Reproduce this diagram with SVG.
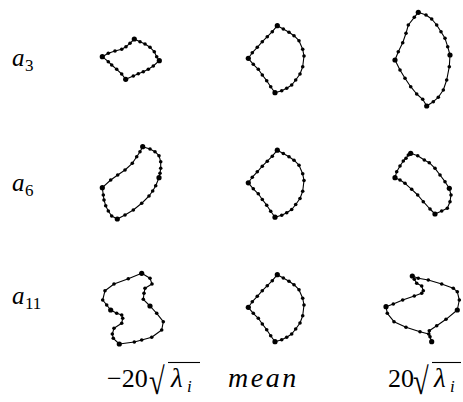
<svg xmlns="http://www.w3.org/2000/svg" width="463" height="402" viewBox="0 0 463 402">
<style>
.ln{fill:none;stroke:#000;stroke-width:1.1;stroke-linejoin:round}
.d{fill:#000}
text{font-family:'Liberation Serif','DejaVu Serif','Times New Roman',serif;fill:#000}
.t{font-style:italic}
</style>
<defs>
<g id="meanShape">
<polygon class="ln" points="277.3,25.7 283.3,29 289,32.3 294,35.7 299,40.7 302.7,49.3 304,56 302.7,66.7 300,74 295.7,80 291.7,85 286.7,88.3 281.7,90.7 275,92.7 270.7,86.7 266.7,80.7 262.3,75 258.3,69.3 253.3,64.3 248.3,58.3 252.3,52.7 257.3,47.3 262.3,41.7 267.3,36.7 272.3,31.7"/>
<g class="d">
<circle cx="277.3" cy="25.7" r="2.6"/><circle cx="283.3" cy="29" r="1.8"/><circle cx="289" cy="32.3" r="1.8"/><circle cx="294" cy="35.7" r="1.8"/><circle cx="299" cy="40.7" r="1.8"/><circle cx="302.7" cy="49.3" r="1.8"/><circle cx="304" cy="56" r="1.8"/><circle cx="302.7" cy="66.7" r="1.8"/><circle cx="300" cy="74" r="1.8"/><circle cx="295.7" cy="80" r="1.8"/><circle cx="291.7" cy="85" r="1.8"/><circle cx="286.7" cy="88.3" r="1.8"/><circle cx="281.7" cy="90.7" r="1.8"/><circle cx="275" cy="92.7" r="2.6"/><circle cx="270.7" cy="86.7" r="1.8"/><circle cx="266.7" cy="80.7" r="1.8"/><circle cx="262.3" cy="75" r="1.8"/><circle cx="258.3" cy="69.3" r="1.8"/><circle cx="253.3" cy="64.3" r="1.8"/><circle cx="248.3" cy="58.3" r="2.6"/><circle cx="252.3" cy="52.7" r="1.8"/><circle cx="257.3" cy="47.3" r="1.8"/><circle cx="262.3" cy="41.7" r="1.8"/><circle cx="267.3" cy="36.7" r="1.8"/><circle cx="272.3" cy="31.7" r="1.8"/>
</g>
</g>
</defs>

<g id="label-a3"><text class="t" x="12" y="66" font-size="25">a</text><text x="25" y="71" font-size="17">3</text></g>
<g id="label-a6"><text class="t" x="12" y="191" font-size="25">a</text><text x="25" y="196" font-size="17">6</text></g>
<g id="label-a11"><text class="t" x="12" y="304" font-size="25">a</text><text x="25" y="309" font-size="17">11</text></g>

<g id="a3-minus">
<polygon class="ln" points="102.3,56.7 108.3,53.3 115,51 121.7,49.3 126,46.7 130,43.3 134.3,39 140,41.7 145,44 150,47.3 154.3,51.7 156.7,56.7 159.3,60.7 153.3,66 148.3,69.3 143.3,71.7 138.3,73.7 133.3,76 125.7,79.3 121.7,74 116.7,69.3 111.7,65 108.3,61.7"/>
<g class="d">
<circle cx="102.3" cy="56.7" r="2.6"/><circle cx="108.3" cy="53.3" r="1.8"/><circle cx="115" cy="51" r="1.8"/><circle cx="121.7" cy="49.3" r="1.8"/><circle cx="126" cy="46.7" r="1.8"/><circle cx="130" cy="43.3" r="1.8"/><circle cx="134.3" cy="39" r="2.6"/><circle cx="140" cy="41.7" r="1.8"/><circle cx="145" cy="44" r="1.8"/><circle cx="150" cy="47.3" r="1.8"/><circle cx="154.3" cy="51.7" r="1.8"/><circle cx="156.7" cy="56.7" r="1.8"/><circle cx="159.3" cy="60.7" r="2.6"/><circle cx="153.3" cy="66" r="1.8"/><circle cx="148.3" cy="69.3" r="1.8"/><circle cx="143.3" cy="71.7" r="1.8"/><circle cx="138.3" cy="73.7" r="1.8"/><circle cx="133.3" cy="76" r="1.8"/><circle cx="125.7" cy="79.3" r="2.6"/><circle cx="121.7" cy="74" r="1.8"/><circle cx="116.7" cy="69.3" r="1.8"/><circle cx="111.7" cy="65" r="1.8"/><circle cx="108.3" cy="61.7" r="1.8"/>
</g>
</g>
<g id="a3-mean"><use href="#meanShape"/></g>
<g id="a3-plus">
<polygon class="ln" points="418.3,12.3 426,15 431.7,19 436.7,25 441,31.7 445,38.3 447.7,46.7 450,55 449.3,66.7 446.7,80 443.3,90 438.3,97.3 433.3,101.7 426.7,106 422.7,99.3 416.7,94 410.7,86.7 405,78.3 400,70 395,60 398.3,51.7 402.7,42.7 406,33.3 408.3,25 414.3,17.3"/>
<g class="d">
<circle cx="418.3" cy="12.3" r="2.6"/><circle cx="426" cy="15" r="1.8"/><circle cx="431.7" cy="19" r="1.8"/><circle cx="436.7" cy="25" r="1.8"/><circle cx="441" cy="31.7" r="1.8"/><circle cx="445" cy="38.3" r="1.8"/><circle cx="447.7" cy="46.7" r="1.8"/><circle cx="450" cy="55" r="2.6"/><circle cx="449.3" cy="66.7" r="1.8"/><circle cx="446.7" cy="80" r="1.8"/><circle cx="443.3" cy="90" r="1.8"/><circle cx="438.3" cy="97.3" r="1.8"/><circle cx="433.3" cy="101.7" r="1.8"/><circle cx="426.7" cy="106" r="2.6"/><circle cx="422.7" cy="99.3" r="1.8"/><circle cx="416.7" cy="94" r="1.8"/><circle cx="410.7" cy="86.7" r="1.8"/><circle cx="405" cy="78.3" r="1.8"/><circle cx="400" cy="70" r="1.8"/><circle cx="395" cy="60" r="2.6"/><circle cx="398.3" cy="51.7" r="1.8"/><circle cx="402.7" cy="42.7" r="1.8"/><circle cx="406" cy="33.3" r="1.8"/><circle cx="408.3" cy="25" r="1.8"/><circle cx="414.3" cy="17.3" r="1.8"/>
</g>
</g>

<g id="a6-minus">
<polygon class="ln" points="142.7,146.7 150,149 155,151.7 159,155.7 160.7,161.7 160.7,168.3 160,173.3 159,177.7 155.7,185.7 152.7,191 149,196 141.7,203.3 133.3,210 125,215 117.3,219 111.7,216 108.3,211 105.7,205.7 104,200 103.3,195 102.3,187.7 110.7,180 117.7,175 125,170 132.3,163.3 136.7,156.7 140,151.7"/>
<g class="d">
<circle cx="142.7" cy="146.7" r="2.6"/><circle cx="150" cy="149" r="1.8"/><circle cx="155" cy="151.7" r="1.8"/><circle cx="159" cy="155.7" r="1.8"/><circle cx="160.7" cy="161.7" r="1.8"/><circle cx="160.7" cy="168.3" r="1.8"/><circle cx="160" cy="173.3" r="1.8"/><circle cx="159" cy="177.7" r="2.6"/><circle cx="155.7" cy="185.7" r="1.8"/><circle cx="152.7" cy="191" r="1.8"/><circle cx="149" cy="196" r="1.8"/><circle cx="141.7" cy="203.3" r="1.8"/><circle cx="133.3" cy="210" r="1.8"/><circle cx="125" cy="215" r="1.8"/><circle cx="117.3" cy="219" r="2.6"/><circle cx="111.7" cy="216" r="1.8"/><circle cx="108.3" cy="211" r="1.8"/><circle cx="105.7" cy="205.7" r="1.8"/><circle cx="104" cy="200" r="1.8"/><circle cx="103.3" cy="195" r="1.8"/><circle cx="102.3" cy="187.7" r="2.6"/><circle cx="110.7" cy="180" r="1.8"/><circle cx="117.7" cy="175" r="1.8"/><circle cx="125" cy="170" r="1.8"/><circle cx="132.3" cy="163.3" r="1.8"/><circle cx="136.7" cy="156.7" r="1.8"/><circle cx="140" cy="151.7" r="1.8"/>
</g>
</g>
<g id="a6-mean"><use href="#meanShape" transform="translate(0,124.5)"/></g>
<g id="a6-plus">
<polygon class="ln" points="410.7,153.3 417.7,155.7 424.3,160 429.3,162.7 435,168.3 440,175 445,181.7 449.3,188.3 451,195 450,201.7 447.3,208.3 441.7,211 435,214 430,209 423.3,201.7 417.7,195 411.7,189.3 405,183.3 400,180 395,177.7 396.7,171.7 400,166 403.3,161 406,158.3 408.3,155"/>
<g class="d">
<circle cx="410.7" cy="153.3" r="2.6"/><circle cx="417.7" cy="155.7" r="1.8"/><circle cx="424.3" cy="160" r="1.8"/><circle cx="429.3" cy="162.7" r="1.8"/><circle cx="435" cy="168.3" r="1.8"/><circle cx="440" cy="175" r="1.8"/><circle cx="445" cy="181.7" r="1.8"/><circle cx="449.3" cy="188.3" r="2.6"/><circle cx="451" cy="195" r="1.8"/><circle cx="450" cy="201.7" r="1.8"/><circle cx="447.3" cy="208.3" r="1.8"/><circle cx="441.7" cy="211" r="1.8"/><circle cx="435" cy="214" r="2.6"/><circle cx="430" cy="209" r="1.8"/><circle cx="423.3" cy="201.7" r="1.8"/><circle cx="417.7" cy="195" r="1.8"/><circle cx="411.7" cy="189.3" r="1.8"/><circle cx="405" cy="183.3" r="1.8"/><circle cx="400" cy="180" r="1.8"/><circle cx="395" cy="177.7" r="2.6"/><circle cx="396.7" cy="171.7" r="1.8"/><circle cx="400" cy="166" r="1.8"/><circle cx="403.3" cy="161" r="1.8"/><circle cx="406" cy="158.3" r="1.8"/><circle cx="408.3" cy="155" r="1.8"/>
</g>
</g>

<g id="a11-minus">
<polygon class="ln" points="141.7,273.3 150,278.3 152,284 145,288.3 144,293.3 143.3,299.3 150,306 156.7,313.3 163.3,321.7 161.7,330 151.7,337.3 141.7,340 134.3,342 119.3,344 113.3,338.3 112.3,334 114,328.3 121.7,323.3 122.7,318.3 121.7,315 116.7,313.3 110.7,310 106.7,305 102.7,300 105,290.7 114,284 128.3,278.7"/>
<g class="d">
<circle cx="141.7" cy="273.3" r="2.6"/><circle cx="150" cy="278.3" r="1.8"/><circle cx="152" cy="284" r="1.8"/><circle cx="145" cy="288.3" r="1.8"/><circle cx="144" cy="293.3" r="1.8"/><circle cx="143.3" cy="299.3" r="1.8"/><circle cx="150" cy="306" r="2.6"/><circle cx="156.7" cy="313.3" r="1.8"/><circle cx="163.3" cy="321.7" r="1.8"/><circle cx="161.7" cy="330" r="1.8"/><circle cx="151.7" cy="337.3" r="1.8"/><circle cx="141.7" cy="340" r="1.8"/><circle cx="134.3" cy="342" r="1.8"/><circle cx="119.3" cy="344" r="2.6"/><circle cx="113.3" cy="338.3" r="1.8"/><circle cx="112.3" cy="334" r="1.8"/><circle cx="114" cy="328.3" r="1.8"/><circle cx="121.7" cy="323.3" r="1.8"/><circle cx="122.7" cy="318.3" r="1.8"/><circle cx="121.7" cy="315" r="1.8"/><circle cx="116.7" cy="313.3" r="1.8"/><circle cx="110.7" cy="310" r="2.6"/><circle cx="106.7" cy="305" r="1.8"/><circle cx="102.7" cy="300" r="1.8"/><circle cx="105" cy="290.7" r="1.8"/><circle cx="114" cy="284" r="1.8"/><circle cx="128.3" cy="278.7" r="1.8"/>
</g>
</g>
<g id="a11-mean"><use href="#meanShape" transform="translate(0,249)"/></g>
<g id="a11-plus">
<polygon class="ln" points="412.3,276 418.3,278.3 428.3,280 441.7,284 453.3,288.3 457.3,291.7 459.3,300 457.3,310 446,319.3 436.7,325.7 429.3,330.7 430,336.7 431.7,341.7 428.7,334 420,331.7 406,327.3 394,321.7 387.3,313.3 386,306.7 393.3,304 402.7,300 414.3,296 421.7,293.3 423.3,290.7 421.7,286 416.7,283.3 414.3,279.3"/>
<g class="d">
<circle cx="412.3" cy="276" r="2.6"/><circle cx="418.3" cy="278.3" r="1.8"/><circle cx="428.3" cy="280" r="1.8"/><circle cx="441.7" cy="284" r="1.8"/><circle cx="453.3" cy="288.3" r="1.8"/><circle cx="457.3" cy="291.7" r="1.8"/><circle cx="459.3" cy="300" r="1.8"/><circle cx="457.3" cy="310" r="2.6"/><circle cx="446" cy="319.3" r="1.8"/><circle cx="436.7" cy="325.7" r="1.8"/><circle cx="429.3" cy="330.7" r="1.8"/><circle cx="430" cy="336.7" r="1.8"/><circle cx="431.7" cy="341.7" r="2.6"/><circle cx="428.7" cy="334" r="1.8"/><circle cx="420" cy="331.7" r="1.8"/><circle cx="406" cy="327.3" r="1.8"/><circle cx="394" cy="321.7" r="1.8"/><circle cx="387.3" cy="313.3" r="1.8"/><circle cx="386" cy="306.7" r="2.6"/><circle cx="393.3" cy="304" r="1.8"/><circle cx="402.7" cy="300" r="1.8"/><circle cx="414.3" cy="296" r="1.8"/><circle cx="421.7" cy="293.3" r="1.8"/><circle cx="423.3" cy="290.7" r="1.8"/><circle cx="421.7" cy="286" r="1.8"/><circle cx="416.7" cy="283.3" r="1.8"/><circle cx="414.3" cy="279.3" r="1.8"/>
</g>
</g>

<g id="col-label-minus">
<text x="107" y="387" font-size="26">−20</text>
<text x="0" y="0" font-size="26" transform="translate(149,394) scale(1.1,1.45)">√</text>
<line x1="168" y1="362.5" x2="200" y2="362.5" stroke="#000" stroke-width="1.1"/>
<text class="t" x="171" y="387" font-size="27">λ</text>
<text class="t" x="187" y="392" font-size="17">i</text>
</g>
<g id="col-label-mean"><text class="t" x="228" y="387" font-size="28" letter-spacing="2.5">mean</text></g>
<g id="col-label-plus">
<text x="388" y="387" font-size="26">20</text>
<text x="0" y="0" font-size="26" transform="translate(413,394) scale(1.1,1.45)">√</text>
<line x1="432" y1="362.5" x2="461" y2="362.5" stroke="#000" stroke-width="1.1"/>
<text class="t" x="434" y="387" font-size="27">λ</text>
<text class="t" x="450" y="392" font-size="17">i</text>
</g>
</svg>
